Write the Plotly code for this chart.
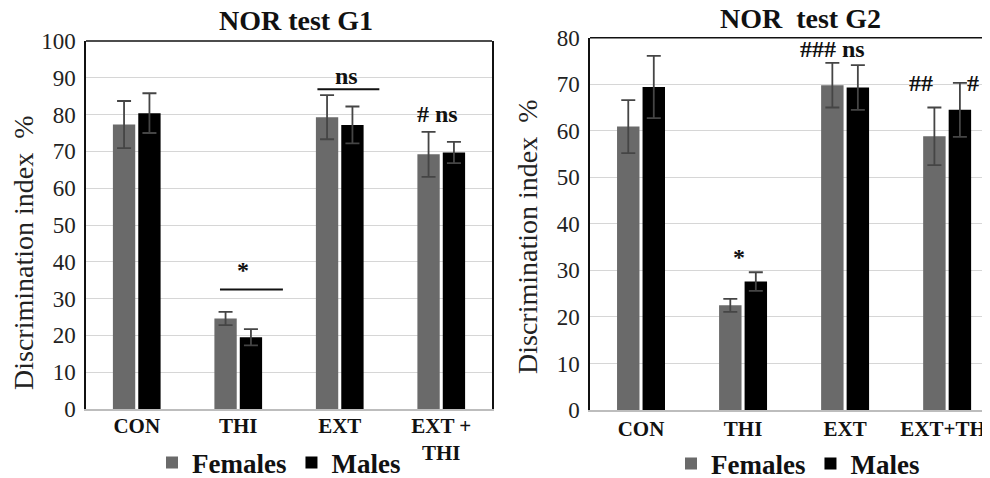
import plotly.graph_objects as go

categories = ["CON", "THI", "EXT", "EXT +<br>THI"]
categories_g2 = ["CON", "THI", "EXT", "EXT+THI"]

g1_females = [77.3, 24.6, 79.3, 69.2]
g1_females_err = [6.4, 1.8, 6.0, 6.1]
g1_males = [80.4, 19.5, 77.2, 69.7]
g1_males_err = [5.4, 2.2, 5.0, 2.9]

g2_females = [60.9, 22.5, 69.8, 58.8]
g2_females_err = [5.7, 1.4, 4.8, 6.2]
g2_males = [69.4, 27.6, 69.3, 64.5]
g2_males_err = [6.7, 2.0, 4.8, 5.8]

# significance marks: (x position in category units, y value, text)
g1_marks = [(1.05, 37.8, "*"), (2.07, 90.5, "ns"), (2.96, 80.3, "# ns")]
g1_lines = [(0.82, 1.44, 32.5), (1.78, 2.39, 86.9)]
g2_marks = [(0.96, 32.8, "*"), (1.88, 77.5, "###\u00a0ns"), (2.74, 70.2, "##"), (3.25, 70.2, "#")]

FONT = "'Liberation Serif', 'Times New Roman', Times, serif"
GRAY = "#6a6a6a"
ERRC = "#454545"

# page has an 8px body margin; figure sized to fit the 990x478 window
OFF = 8
W, H = 990 - OFF, 478 - OFF

def px(x):
    return (x - OFF) / W

def py(y):
    return (H - (y - OFF)) / H

fig = go.Figure()

def add_bars(xcats, fem, fem_err, mal, mal_err, xa, ya, legend):
    fig.add_trace(go.Bar(
        x=xcats, y=fem, name="Females", marker=dict(color=GRAY, line=dict(width=0)),
        error_y=dict(type="data", array=fem_err, color=ERRC, thickness=1.8, width=7),
        xaxis=xa, yaxis=ya, legend=legend, showlegend=True))
    fig.add_trace(go.Bar(
        x=xcats, y=mal, name="Males", marker=dict(color="#000000", line=dict(width=0)),
        error_y=dict(type="data", array=mal_err, color=ERRC, thickness=1.8, width=7),
        xaxis=xa, yaxis=ya, legend=legend, showlegend=True))

add_bars(categories, g1_females, g1_females_err, g1_males, g1_males_err, "x", "y", "legend")
add_bars(categories_g2, g2_females, g2_females_err, g2_males, g2_males_err, "x2", "y2", "legend2")

tickfont = dict(family=FONT, size=23, color="#222")
xtickfont = dict(family=FONT, size=21, color="#111", weight="bold")
legfont = dict(family=FONT, size=27, color="#111", weight="bold")

fig.update_layout(
    width=W, height=H,
    margin=dict(l=0, r=0, t=0, b=0, autoexpand=False),
    paper_bgcolor="white", plot_bgcolor="white",
    barmode="group", bargap=0.5, bargroupgap=0.12,
    font=dict(family=FONT),
    xaxis=dict(domain=[px(86), px(492)], range=[-0.5, 3.5], showgrid=False,
               showline=True, linecolor="#bdbdbd", linewidth=1.5, ticks="",
               tickfont=xtickfont, anchor="y", automargin=False, ticklabelstandoff=-3),
    yaxis=dict(domain=[py(409), py(41)], range=[0, 100], dtick=10,
               showgrid=True, gridcolor="#d6d6d6", gridwidth=1, zeroline=False,
               showline=True, linecolor="#111", linewidth=1.5, mirror=True,
               ticks="", tickfont=tickfont, anchor="x", ticklabelstandoff=4,
               automargin=False),
    xaxis2=dict(domain=[px(590), 1.0], range=[-0.5, 3.42], showgrid=False,
                showline=True, linecolor="#bdbdbd", linewidth=1.5, ticks="",
                tickfont=xtickfont, anchor="y2", automargin=False, ticklabelstandoff=-1),
    yaxis2=dict(domain=[py(410), py(37.7)], range=[0, 80], dtick=10,
                showgrid=True, gridcolor="#d6d6d6", gridwidth=1, zeroline=False,
                showline=True, linecolor="#111", linewidth=1.5,
                ticks="", tickfont=tickfont, anchor="x2", ticklabelstandoff=4,
                automargin=False),
    legend=dict(orientation="h", x=px(152), y=py(463), xanchor="left", yanchor="middle",
                font=legfont, bgcolor="rgba(0,0,0,0)", itemwidth=30, tracegroupgap=0),
    legend2=dict(orientation="h", x=px(671), y=py(464), xanchor="left", yanchor="middle",
                 font=legfont, bgcolor="rgba(0,0,0,0)", itemwidth=30, tracegroupgap=0),
)

# top borders
fig.add_shape(type="line", xref="x domain", yref="y domain", x0=0, x1=1, y0=1, y1=1,
              line=dict(color="#111", width=1.5))
fig.add_shape(type="line", xref="x2 domain", yref="y2 domain", x0=0, x1=1, y0=1, y1=1,
              line=dict(color="#111", width=1.5))

for x0, x1, yv in g1_lines:
    fig.add_shape(type="line", xref="x", yref="y", x0=x0, x1=x1, y0=yv, y1=yv,
                  line=dict(color="#111", width=2))

markfont = dict(family=FONT, size=24, color="#111", weight="bold")
for xv, yv, t in g1_marks:
    fig.add_annotation(x=xv, y=yv, xref="x", yref="y", text=t, showarrow=False, font=markfont,
                       xanchor="center", yanchor="middle")
for xv, yv, t in g2_marks:
    fig.add_annotation(x=xv, y=yv, xref="x2", yref="y2", text=t, showarrow=False, font=markfont,
                       xanchor="center", yanchor="middle")

titlefont = dict(family=FONT, size=28, color="#111", weight="bold")
fig.add_annotation(x=px(296), y=py(20), xref="paper", yref="paper", text="NOR test G1",
                   showarrow=False, font=titlefont, xanchor="center", yanchor="middle")
fig.add_annotation(x=px(800), y=py(19), xref="paper", yref="paper", text="NOR\u00a0\u00a0test G2",
                   showarrow=False, font=titlefont, xanchor="center", yanchor="middle")

ytfont = dict(family=FONT, size=28, color="#222")
fig.add_annotation(x=px(24), y=py(253), xref="paper", yref="paper",
                   text="Discrimination index\u00a0\u00a0%", textangle=-90, showarrow=False,
                   font=ytfont, xanchor="center", yanchor="middle")
fig.add_annotation(x=px(527), y=py(237), xref="paper", yref="paper",
                   text="Discrimination index\u00a0\u00a0%", textangle=-90, showarrow=False,
                   font=ytfont, xanchor="center", yanchor="middle")

fig.write_html("out.html")
